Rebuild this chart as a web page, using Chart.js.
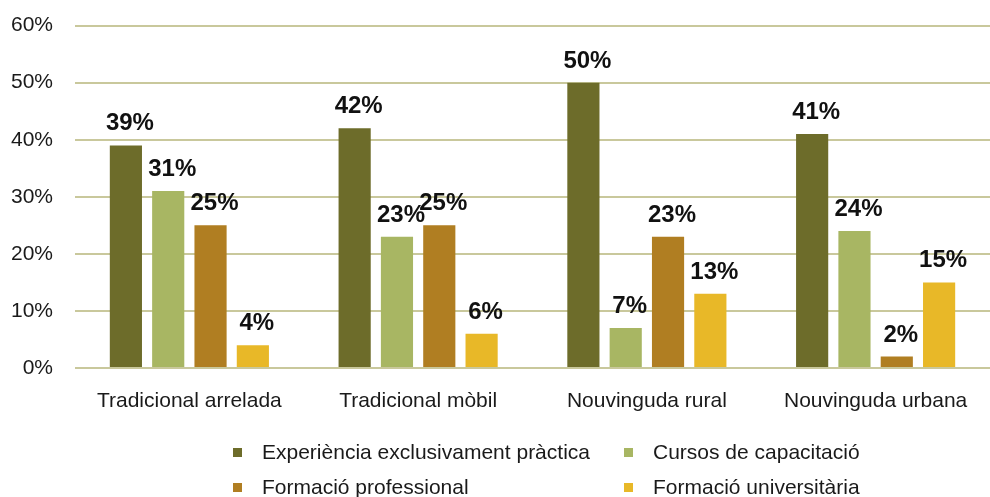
<!DOCTYPE html>
<html>
<head>
<meta charset="utf-8">
<script src="https://cdn.jsdelivr.net/npm/chart.js@4"></script>
<style>
  html, body { margin: 0; padding: 0; background: #fff; }
  #wrap { position: relative; width: 990px; height: 497px; font-family: "Liberation Sans", Arial, sans-serif; overflow: hidden; }
  #chart-box { position: absolute; left: 0; top: -9px; width: 990px; height: 423px; }
  #legend { position: absolute; left: 0; top: 0; width: 990px; height: 497px; pointer-events: none; }
  .lg-item { position: absolute; display: flex; align-items: center; font-size: 21px; line-height: 24px; color: #1a1a1a; white-space: nowrap; }
  .lg-box { width: 9px; height: 9px; margin-right: 20px; }
</style>
</head>
<body>
<div id="wrap">
  <div id="chart-box"><canvas id="c"></canvas></div>
  <div id="legend"></div>
</div>
<script>
const categories = ['Tradicional arrelada', 'Tradicional mòbil', 'Nouvinguda rural', 'Nouvinguda urbana'];
const seriesNames = [
  'Experiència exclusivament pràctica',
  'Cursos de capacitació',
  'Formació professional',
  'Formació universitària'
];
const practica      = [39, 42, 50, 41];
const cursos        = [31, 23, 7, 24];
const professional  = [25, 25, 23, 2];
const universitaria = [4, 6, 13, 15];
const yTicks = [0, 10, 20, 30, 40, 50, 60];

const colors = ['#6d6c2a', '#a8b663', '#b07e22', '#e8b828'];
const FONT = '"Liberation Sans", Arial, sans-serif';

const datasets = [practica, cursos, professional, universitaria].map((vals, i) => ({
  label: seriesNames[i],
  data: vals,
  backgroundColor: colors[i],
  borderWidth: 0,
  categoryPercentage: 0.74,
  barPercentage: 0.76,
}));

// value labels above every bar
const barLabels = {
  id: 'barLabels',
  afterDatasetsDraw(chart) {
    const ctx = chart.ctx;
    ctx.save();
    ctx.font = `bold 24px ${FONT}`;
    ctx.fillStyle = '#111';
    ctx.textAlign = 'center';
    ctx.textBaseline = 'alphabetic';
    chart.data.datasets.forEach((ds, di) => {
      chart.getDatasetMeta(di).data.forEach((bar, i) => {
        ctx.fillText(ds.data[i] + '%', bar.x + 4, bar.y - 15);
      });
    });
    ctx.restore();
  }
};

new Chart(document.getElementById('c'), {
  type: 'bar',
  data: { labels: categories, datasets },
  plugins: [barLabels],
  options: {
    responsive: true,
    maintainAspectRatio: false,
    animation: false,
    layout: { padding: { top: 4, right: 0, bottom: 0, left: 0 } },
    plugins: { legend: { display: false }, tooltip: { enabled: false } },
    scales: {
      x: {
        grid: { display: false },
        border: { display: false },
        ticks: { color: '#1a1a1a', font: { family: FONT, size: 21 }, padding: 13 },
        afterFit: s => { s.height = 46; }
      },
      y: {
        min: 0, max: 60,
        afterBuildTicks: s => { s.ticks = yTicks.map(v => ({ value: v })); },
        grid: { color: '#c9c89c', lineWidth: 2, drawTicks: false },
        border: { display: false },
        ticks: { color: '#1a1a1a', font: { family: FONT, size: 21 }, padding: 22, callback: v => v + '%' },
        afterFit: s => { s.width = 75; }
      }
    }
  }
});

// two-column legend under the chart
const legendPos = [[233, 452], [624, 452], [233, 487], [624, 487]];
const legendEl = document.getElementById('legend');
seriesNames.forEach((name, i) => {
  const item = document.createElement('div');
  item.className = 'lg-item';
  item.style.left = legendPos[i][0] + 'px';
  item.style.top = (legendPos[i][1] - 12) + 'px';
  item.innerHTML = `<span class="lg-box" style="background:${colors[i]}"></span><span>${name}</span>`;
  legendEl.appendChild(item);
});
</script>
</body>
</html>
